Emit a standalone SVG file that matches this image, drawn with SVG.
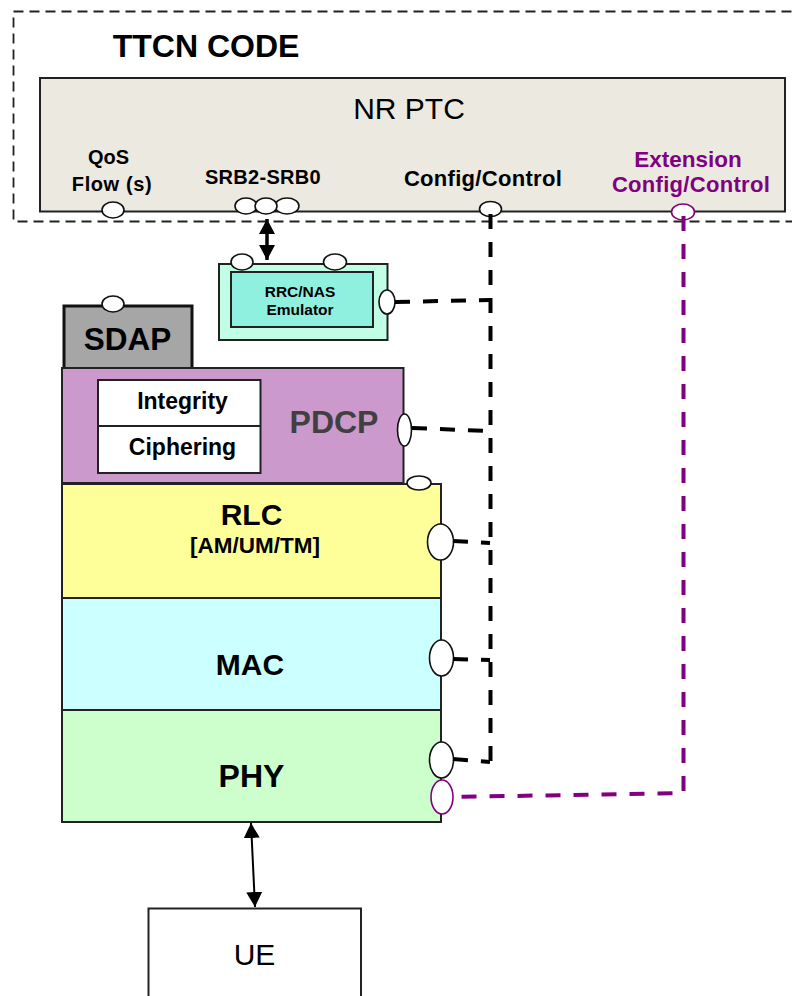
<svg xmlns="http://www.w3.org/2000/svg" width="792" height="996" viewBox="0 0 792 996">
<defs>
<marker id="ahb" viewBox="0 0 10 10" refX="10" refY="5" markerWidth="15" markerHeight="16" markerUnits="userSpaceOnUse" orient="auto-start-reverse" preserveAspectRatio="none"><path d="M0 0L10 5L0 10Z" fill="#000"/></marker>
</defs>
<style>
text{font-family:"Liberation Sans",Arial,sans-serif;fill:#000;text-anchor:middle}
.b{font-weight:700}
.box{stroke:#222;stroke-width:2}
.p{fill:#fff;stroke:#111;stroke-width:1.6}
.pm{fill:#fff;stroke:#800080;stroke-width:1.6}
.dk{fill:none;stroke:#000;stroke-width:4;stroke-dasharray:15 13}
.dp{fill:none;stroke:#800080;stroke-width:4;stroke-dasharray:15 13}
.m{fill:#800080}
</style>
<g id="ttcn"><rect x="13.500" y="11.500" width="790" height="210" fill="none" stroke="#222" stroke-width="1.800" stroke-dasharray="10 6"/>
<text class="b" x="206" y="57" font-size="32">TTCN CODE</text></g>
<g id="nr-ptc"><rect class="box" x="40" y="78" width="745" height="133.500" fill="#ece9e0"/>
<text x="409" y="119" font-size="30">NR PTC</text>
<text class="b" x="108.500" y="164" font-size="20">QoS</text>
<text class="b" x="112" y="191" font-size="20" letter-spacing="0.600">Flow (s)</text>
<text class="b" x="263" y="184" font-size="20" letter-spacing="0.300">SRB2-SRB0</text>
<text class="b" x="483" y="186" font-size="22" letter-spacing="0.300">Config/Control</text>
<text class="b" x="688" y="167" font-size="22.500" style="fill:#800080">Extension</text>
<text class="b" x="691" y="192" font-size="22" letter-spacing="0.300" style="fill:#800080">Config/Control</text>
<ellipse class="p" cx="113" cy="210" rx="11" ry="8"/>
<ellipse class="p" cx="246" cy="206" rx="11" ry="8"/><ellipse class="p" cx="287" cy="206" rx="12" ry="8"/><ellipse class="p" cx="266" cy="206" rx="11" ry="8"/>
<ellipse class="p" cx="490.500" cy="209" rx="11" ry="7.500"/>
<ellipse class="pm" cx="683" cy="212" rx="11.500" ry="8"/></g>
<g id="rrc-nas"><rect class="box" x="219" y="264" width="168.500" height="76" fill="#c0ffe6"/>
<rect class="box" x="231" y="272" width="142" height="55" fill="#90f0e0"/>
<text class="b" x="300" y="297" font-size="15.500">RRC/NAS</text><text class="b" x="300" y="315" font-size="15.500">Emulator</text>
<ellipse class="p" cx="242" cy="262" rx="11" ry="8"/><ellipse class="p" cx="335" cy="262" rx="11.500" ry="8"/>
<ellipse class="p" cx="387" cy="302" rx="8" ry="12"/></g>
<g id="sdap"><rect x="64" y="306" width="128" height="64" fill="#a6a6a6" stroke="#111" stroke-width="3"/>
<text class="b" x="127.500" y="350" font-size="31.500">SDAP</text><ellipse class="p" cx="113" cy="304" rx="11" ry="8"/></g>
<g id="pdcp"><rect class="box" x="62" y="368" width="341.500" height="115" fill="#cc99cc"/>
<rect class="box" x="98" y="380" width="162.500" height="93" fill="#fff"/><line class="box" x1="98" y1="426" x2="260" y2="426"/>
<text class="b" x="182.500" y="409" font-size="23">Integrity</text><text class="b" x="182.500" y="455" font-size="23">Ciphering</text>
<text class="b" x="334" y="433" font-size="32" style="fill:#404040">PDCP</text>
<ellipse class="p" cx="404.500" cy="430" rx="7" ry="16"/></g>
<g id="rlc"><rect class="box" x="62" y="484" width="379" height="114" fill="#ffff99"/>
<text class="b" x="251.500" y="525" font-size="30">RLC</text><text class="b" x="255" y="553" font-size="22.500">[AM/UM/TM]</text>
<ellipse class="p" cx="419" cy="483" rx="12" ry="7"/><ellipse class="p" cx="440.500" cy="542" rx="13" ry="18"/></g>
<g id="mac"><rect class="box" x="62" y="598" width="379" height="112" fill="#ccffff"/>
<text class="b" x="250" y="675" font-size="30">MAC</text><ellipse class="p" cx="441.500" cy="658" rx="12" ry="18"/></g>
<g id="phy"><rect class="box" x="62" y="710" width="379" height="112" fill="#ccffcc"/>
<text class="b" x="251.500" y="787" font-size="32">PHY</text><ellipse class="p" cx="441.500" cy="760" rx="12" ry="18"/><ellipse class="pm" cx="442" cy="797" rx="11" ry="17"/></g>
<g id="ue"><rect class="box" x="148.500" y="908.500" width="212.500" height="100" fill="#fff"/><text x="254.500" y="965" font-size="30">UE</text></g>
<g id="connectors">
<path class="dk" d="M490.500 214V762"/>
<path class="dk" d="M395 302L490 300"/>
<path class="dk" d="M412 428L490 431"/>
<path class="dk" d="M453 541L490 543"/>
<path class="dk" d="M453 659L490 660"/>
<path class="dk" d="M453 759L490 762"/>
<path class="dp" d="M683.500 216V793L453 797"/>
<line x1="267" y1="219" x2="267" y2="260" stroke="#000" stroke-width="3.500" marker-start="url(#ahb)" marker-end="url(#ahb)"/>
<line x1="251" y1="823" x2="255" y2="907" stroke="#000" stroke-width="2" marker-start="url(#ahb)" marker-end="url(#ahb)"/>
</g>
</svg>
